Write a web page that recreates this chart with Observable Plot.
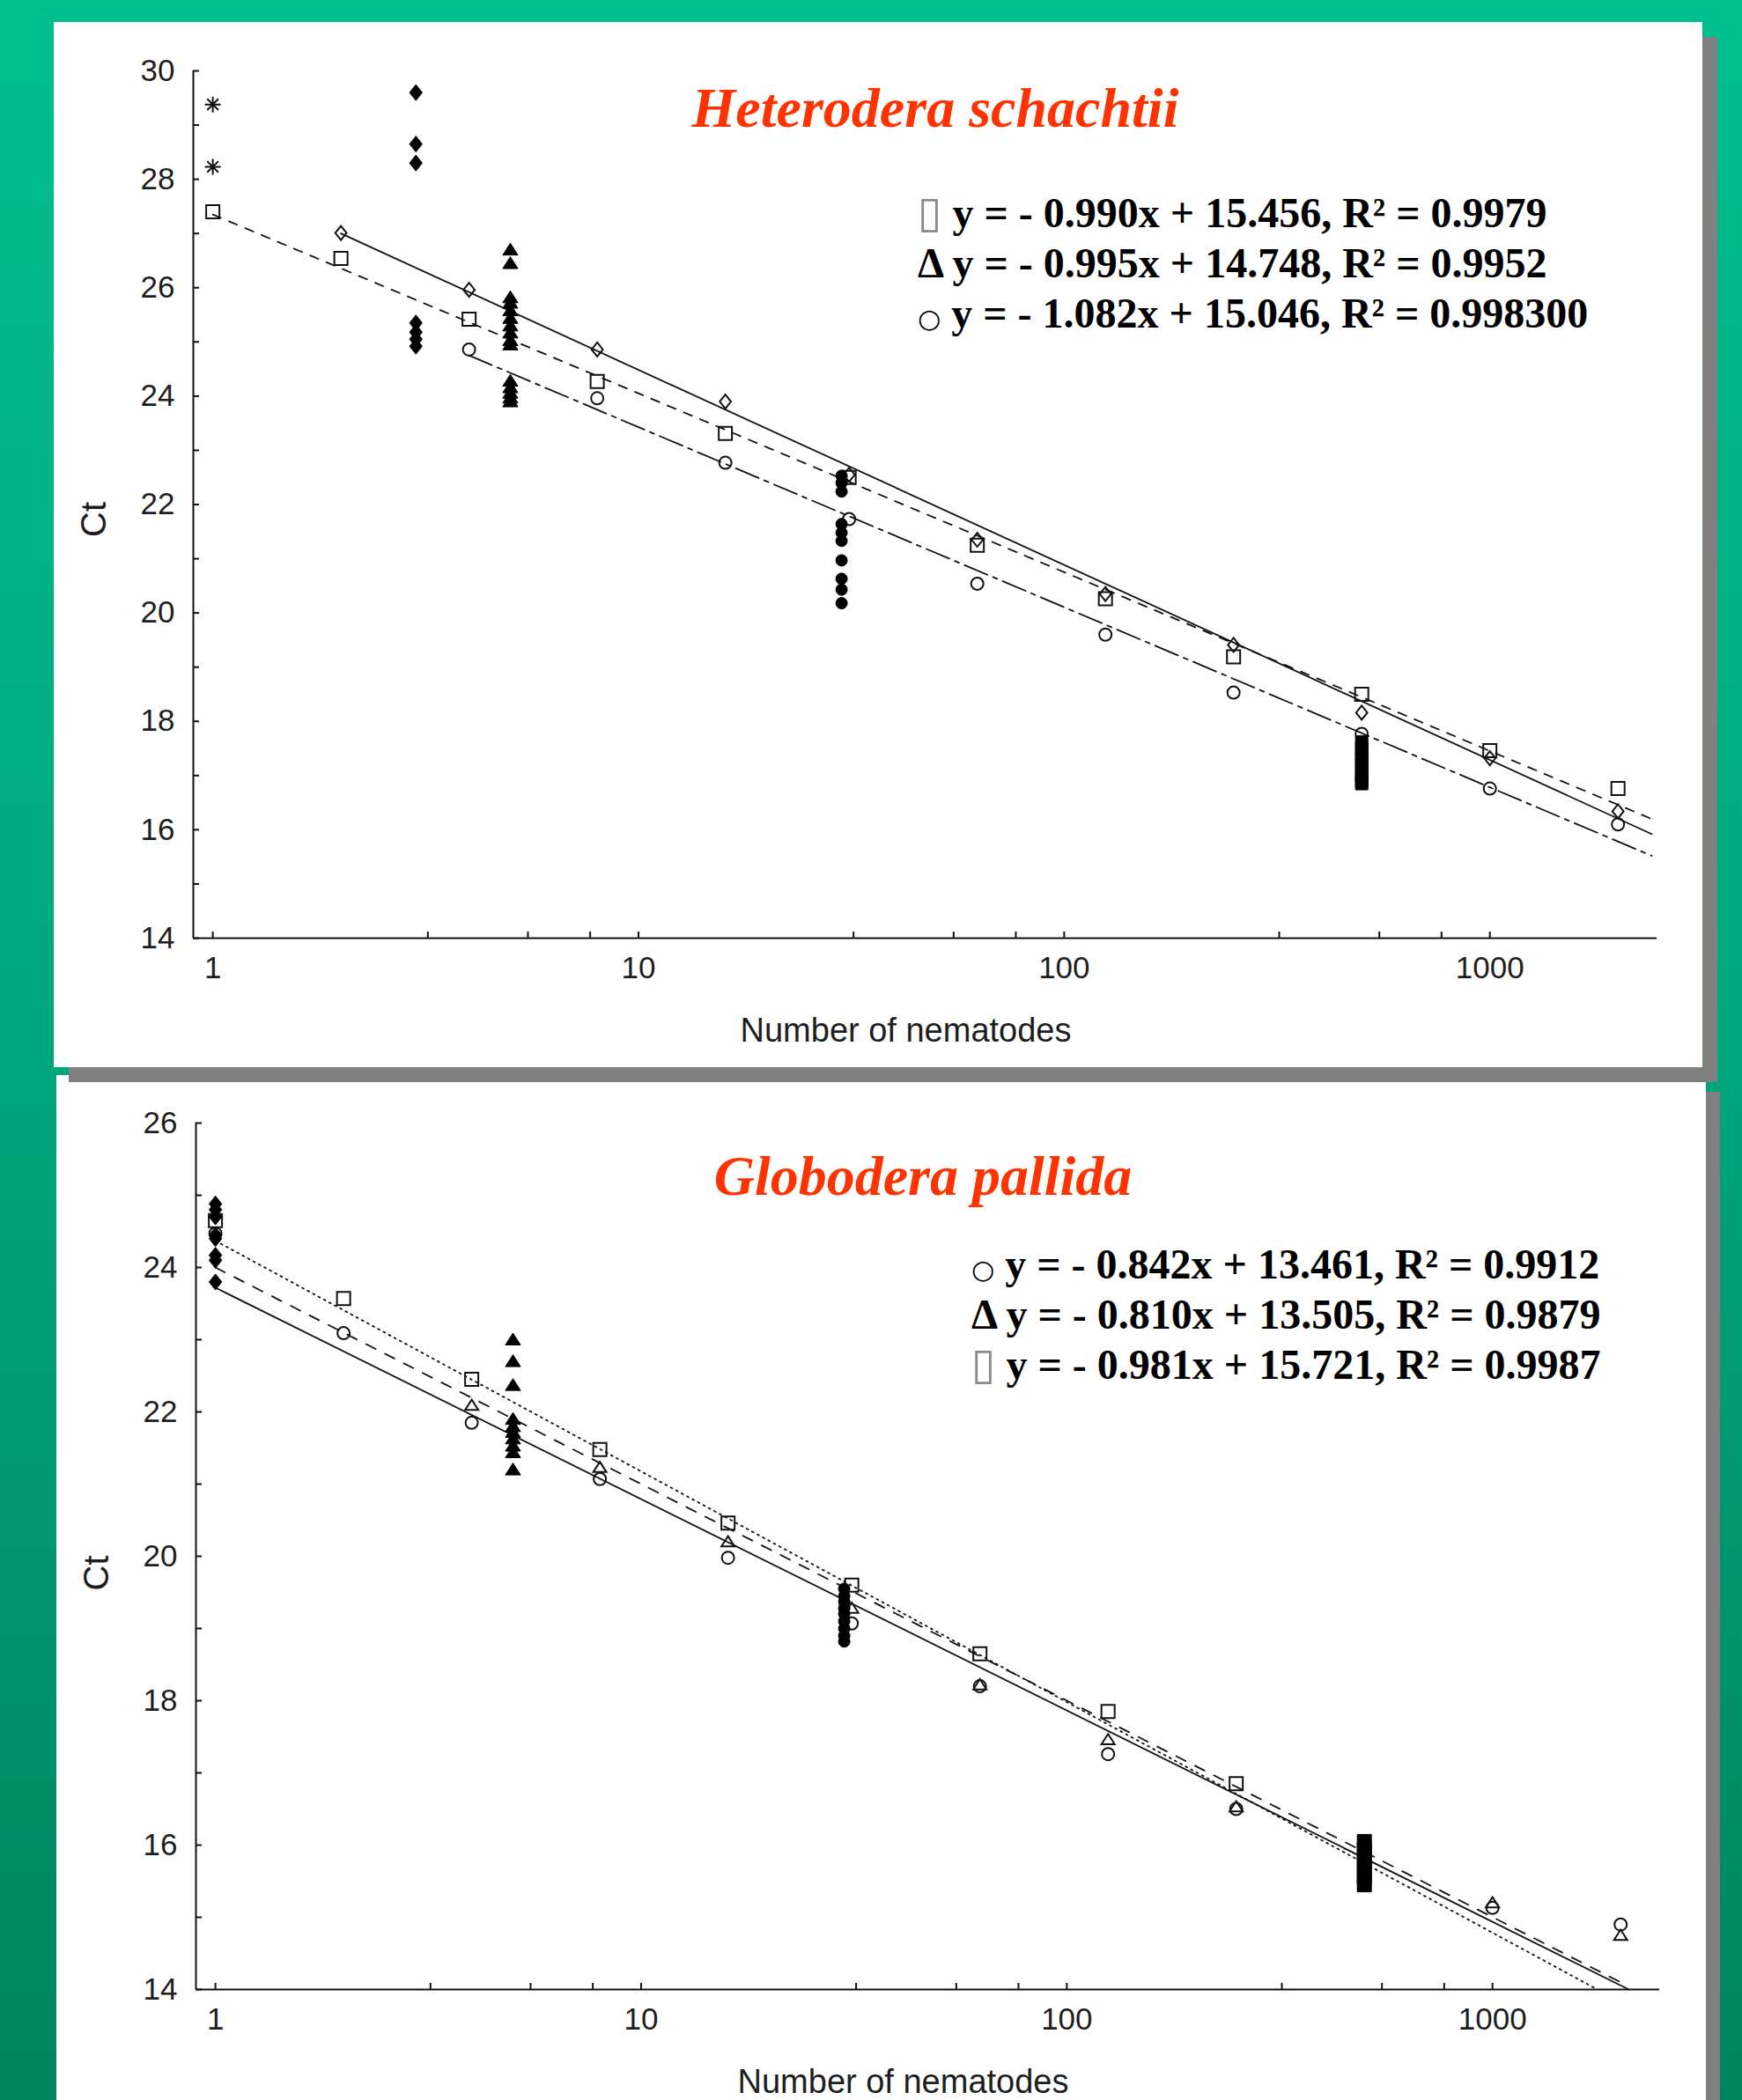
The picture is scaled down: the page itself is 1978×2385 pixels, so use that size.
<!DOCTYPE html>
<html>
<head>
<meta charset="utf-8">
<script src="https://cdn.jsdelivr.net/npm/d3@7"></script>
<script src="https://cdn.jsdelivr.net/npm/@observablehq/plot@0.6"></script>
<style>
html, body { margin: 0; padding: 0; }
body {
  width: 1978px; height: 2385px; overflow: hidden; position: relative;
  background: linear-gradient(to bottom, #00bf8e 0%, #00a67c 50%, #00845f 100%);
}
.panel { position: absolute; background: #ffffff; }
#p1 { left: 61px; top: 25px; width: 1872px; height: 1187px; box-shadow: 17px 17px 0 #808080; z-index: 2; }
#p2 { left: 64px; top: 1221px; width: 1873px; height: 1300px; box-shadow: 16px 19px 0 #808080; z-index: 1; }
.chart { position: absolute; left: 0; z-index: 3; }
.title {
  position: absolute; z-index: 4; white-space: nowrap; line-height: 1;
  font-family: "Liberation Serif", "Times New Roman", serif; font-weight: bold; font-style: italic;
  color: #ff3300; font-size: 64px; transform: translateX(-50%);
}
.eq {
  position: absolute; z-index: 4; white-space: nowrap;
  font-family: "Liberation Serif", "Times New Roman", serif; font-weight: bold;
  font-size: 48px; line-height: 57px; color: #000;
}
.eq div { height: 57px; }
.eq .box { font-family: "DejaVu Sans", sans-serif; font-weight: normal; font-size: 50px; line-height: 0; color: #8a8a8a; }
.eq .ring { font-family: "DejaVu Sans", sans-serif; font-weight: normal; font-size: 30px; line-height: 0; }
</style>
</head>
<body>
<div class="panel" id="p1"></div>
<div class="panel" id="p2"></div>
<div class="chart" id="chart1" style="top:0px"></div>
<div class="chart" id="chart2" style="top:1215px"></div>
<div class="title" style="left:1062px; top:91px">Heterodera schachtii</div>
<div class="eq" style="left:1042px; top:213px">
  <div><span class="box">▯</span> y = - 0.990x + 15.456, R² = 0.9979</div>
  <div>Δ y = - 0.995x + 14.748, R² = 0.9952</div>
  <div><span class="ring">○</span> y = - 1.082x + 15.046, R² = 0.998300</div>
</div>
<div class="title" style="left:1048px; top:1304px">Globodera pallida</div>
<div class="eq" style="left:1103px; top:1407px">
  <div><span class="ring">○</span> y = - 0.842x + 13.461, R² = 0.9912</div>
  <div>Δ y = - 0.810x + 13.505, R² = 0.9879</div>
  <div><span class="box">▯</span> y = - 0.981x + 15.721, R² = 0.9987</div>
</div>
<script>
// ---------- shared axis values ----------
const xDomain = [0.9, 2470];
const xMajorTicks = [1, 10, 100, 1000];
const xAllTicks = [1, 3.2, 5.5, 7.7, 10, 32, 55, 77, 100, 320, 550, 770, 1000];
const xAxisTitle = "Number of nematodes";
const yAxisTitle = "Ct";

// ---------- Heterodera schachtii (top) ----------
const hsYDomain = [14, 30];
const hsYMajor = [14, 16, 18, 20, 22, 24, 26, 28, 30];
const hsYAll = [14, 15, 16, 17, 18, 19, 20, 21, 22, 23, 24, 25, 26, 27, 28, 29, 30];

const hsSquareN  = [1, 2, 4, 8, 16, 31.25, 62.5, 125, 250, 500, 1000, 2000];
const hsSquareCt = [27.4, 26.54, 25.42, 24.27, 23.31, 22.5, 21.25, 20.26, 19.19, 18.5, 17.46, 16.76];
const hsDiamondN  = [2, 4, 8, 16, 31.25, 62.5, 125, 250, 500, 1000, 2000];
const hsDiamondCt = [27.01, 25.96, 24.86, 23.9, 22.55, 21.35, 20.35, 19.41, 18.16, 17.32, 16.34];
const hsCircleN  = [4, 8, 16, 31.25, 62.5, 125, 250, 500, 1000, 2000];
const hsCircleCt = [24.86, 23.96, 22.77, 21.73, 20.54, 19.6, 18.53, 17.77, 16.76, 16.1];

const hsStarN = 1;
const hsStarCt = [29.38, 28.23];
const hsFilledDiamondN = 3;
const hsFilledDiamondCt = [29.6, 28.65, 28.3, 25.35, 25.18, 25.05, 24.92];
const hsFilledTriangleN = 5;
const hsFilledTriangleCt = [26.7, 26.45, 25.82, 25.72, 25.58, 25.44, 25.3, 25.17, 25.03, 24.95, 24.28, 24.16, 24.06, 23.97, 23.9];
const hsFilledCircleN = 30;
const hsFilledCircleCt = [22.53, 22.4, 22.24, 21.64, 21.48, 21.33, 20.97, 20.63, 20.43, 20.18];
const hsFilledSquareN = 500;
const hsFilledSquareCt = [17.62, 17.5, 17.4, 17.3, 17.2, 17.1, 17.0, 16.9, 16.85];

const hsSolidLineN = [2, 2400],  hsSolidLineCt = [27.0, 15.92];
const hsDashLineN = [1, 2400],   hsDashLineCt = [27.35, 16.2];
const hsDashDotLineN = [4, 2400], hsDashDotLineCt = [24.75, 15.52];

// ---------- Globodera pallida (bottom) ----------
const gpYDomain = [14, 26];
const gpYMajor = [14, 16, 18, 20, 22, 24, 26];
const gpYAll = [14, 15, 16, 17, 18, 19, 20, 21, 22, 23, 24, 25, 26];

const gpSquareN  = [1, 2, 4, 8, 16, 31.25, 62.5, 125, 250];
const gpSquareCt = [24.65, 23.57, 22.45, 21.48, 20.46, 19.6, 18.65, 17.85, 16.85];
const gpTriangleN  = [4, 8, 16, 31.25, 62.5, 125, 250, 1000, 2000];
const gpTriangleCt = [22.09, 21.23, 20.2, 19.28, 18.22, 17.46, 16.53, 15.2, 14.75];
const gpCircleN  = [1, 2, 4, 8, 16, 31.25, 62.5, 125, 250, 1000, 2000];
const gpCircleCt = [24.47, 23.09, 21.85, 21.07, 19.98, 19.07, 18.2, 17.26, 16.5, 15.13, 14.9];

const gpFilledDiamondN = 1;
const gpFilledDiamondCt = [24.88, 24.8, 24.7, 24.45, 24.4, 24.17, 24.1, 23.8];
const gpFilledTriangleN = 5;
const gpFilledTriangleCt = [23.0, 22.7, 22.37, 21.9, 21.8, 21.72, 21.63, 21.53, 21.44, 21.2];
const gpFilledCircleN = 30;
const gpFilledCircleCt = [19.55, 19.45, 19.37, 19.28, 19.2, 19.1, 19.0, 18.9, 18.82];
const gpFilledSquareN = 500;
const gpFilledSquareCt = [16.05, 15.95, 15.85, 15.75, 15.65, 15.55, 15.45];

const gpSolidLineN = [1, 2090], gpSolidLineCt = [23.72, 14.0];
const gpDashLineN = [1, 2000],  gpDashLineCt = [24.0, 14.1];
const gpDotLineN = [1, 1763],   gpDotLineCt = [24.37, 14.0];

// ---------- helpers ----------
const zip = (ns, cts) => ns.map((n, i) => ({n, ct: cts[i]}));
const col = (n, cts) => cts.map(ct => ({n, ct}));

const sym = fn => ({draw(ctx, size) { fn(ctx, Math.sqrt(size / Math.PI)); }});
const squareSym = sym((c, r) => { c.moveTo(-r, -r); c.lineTo(r, -r); c.lineTo(r, r); c.lineTo(-r, r); c.closePath(); });
const diamondSym = sym((c, r) => { const w = r * 0.8; c.moveTo(0, -r); c.lineTo(w, 0); c.lineTo(0, r); c.lineTo(-w, 0); c.closePath(); });
const triangleSym = sym((c, r) => { const w = r * 1.15; c.moveTo(0, -r); c.lineTo(w, r * 0.8); c.lineTo(-w, r * 0.8); c.closePath(); });
const circleSym = sym((c, r) => { c.moveTo(r, 0); c.arc(0, 0, r, 0, 2 * Math.PI); c.closePath(); });
const asteriskSym = sym((c, r) => {
  for (const a of [0, 45, 90, 135]) {
    const t = a * Math.PI / 180, dx = Math.cos(t) * r, dy = Math.sin(t) * r;
    c.moveTo(dx, dy); c.lineTo(-dx, -dy);
  }
});

const openDot = (data, symbol, r) => Plot.dot(data, {x: "n", y: "ct", symbol, r, fill: "none", stroke: "#111", strokeWidth: 2});
const filledDot = (data, symbol, r) => Plot.dot(data, {x: "n", y: "ct", symbol, r, fill: "#000", stroke: "#000", strokeWidth: 1});
const fitLine = (ns, cts, dash) => Plot.line(zip(ns, cts), {x: "n", y: "ct", stroke: "#111", strokeWidth: 1.8, strokeDasharray: dash});

function makeChart(cfg) {
  const {width, height, marginLeft, marginRight, marginTop, marginBottom, yDomain, yMajor, yAll, marks, titleDx, ctDy} = cfg;
  const plotW = width - marginLeft - marginRight;
  const plotH = height - marginTop - marginBottom;
  return Plot.plot({
    width, height, marginLeft, marginRight, marginTop, marginBottom,
    style: {background: "transparent", fontFamily: "'Liberation Sans', Arial, sans-serif", color: "#1e1e1e", overflow: "visible"},
    x: {type: "log", domain: xDomain},
    y: {domain: yDomain},
    marks: [
      ...marks,
      Plot.ruleX([xDomain[0]], {stroke: "#111", strokeWidth: 2}),
      Plot.ruleY([yDomain[0]], {stroke: "#111", strokeWidth: 2}),
      Plot.tickY(yAll, {y: d => d, insetRight: plotW - 7, stroke: "#111", strokeWidth: 2}),
      Plot.tickX(xAllTicks, {x: d => d, insetTop: plotH - 7, stroke: "#111", strokeWidth: 2}),
      Plot.axisY({ticks: yMajor, tickSize: 0, tickPadding: 21, fontSize: 35, label: null, tickFormat: d => String(d)}),
      Plot.axisX({ticks: xMajorTicks, tickSize: 0, tickPadding: 21, fontSize: 35, label: null, tickFormat: d => String(d)}),
      Plot.text([xAxisTitle], {frameAnchor: "bottom", text: d => d, textAnchor: "middle", lineAnchor: "middle", dy: 105, dx: titleDx, fontSize: 38, fill: "#1e1e1e"}),
      Plot.text([yAxisTitle], {frameAnchor: "left", text: d => d, rotate: -90, textAnchor: "middle", lineAnchor: "middle", dx: -112, dy: ctDy, fontSize: 40, fill: "#1e1e1e"})
    ]
  });
}

const chart1 = makeChart({
  width: 1978, height: 1215, marginLeft: 219, marginRight: 97, marginTop: 80, marginBottom: 150,
  yDomain: hsYDomain, yMajor: hsYMajor, yAll: hsYAll, titleDx: -22, ctDy: 17,
  marks: [
    fitLine(hsSolidLineN, hsSolidLineCt, null),
    fitLine(hsDashLineN, hsDashLineCt, "10,10"),
    fitLine(hsDashDotLineN, hsDashDotLineCt, "28,7,5,7"),
    openDot(col(hsStarN, hsStarCt), asteriskSym, 9),
    openDot(zip(hsSquareN, hsSquareCt), squareSym, 7.5),
    openDot(zip(hsDiamondN, hsDiamondCt), diamondSym, 8),
    openDot(zip(hsCircleN, hsCircleCt), circleSym, 7),
    filledDot(col(hsFilledDiamondN, hsFilledDiamondCt), diamondSym, 9),
    filledDot(col(hsFilledTriangleN, hsFilledTriangleCt), triangleSym, 7.5),
    filledDot(col(hsFilledCircleN, hsFilledCircleCt), circleSym, 6.5),
    filledDot(col(hsFilledSquareN, hsFilledSquareCt), squareSym, 7)
  ]
});
document.getElementById("chart1").appendChild(chart1);

const chart2 = makeChart({
  width: 1978, height: 1170, marginLeft: 222, marginRight: 94, marginTop: 60, marginBottom: 126,
  yDomain: gpYDomain, yMajor: gpYMajor, yAll: gpYAll, titleDx: -28, ctDy: 19,
  marks: [
    fitLine(gpSolidLineN, gpSolidLineCt, null),
    fitLine(gpDashLineN, gpDashLineCt, "12,12"),
    fitLine(gpDotLineN, gpDotLineCt, "2,5"),
    openDot(zip(gpSquareN, gpSquareCt), squareSym, 7.5),
    openDot(zip(gpTriangleN, gpTriangleCt), triangleSym, 6.5),
    openDot(zip(gpCircleN, gpCircleCt), circleSym, 7),
    filledDot(col(gpFilledDiamondN, gpFilledDiamondCt), diamondSym, 9),
    filledDot(col(gpFilledTriangleN, gpFilledTriangleCt), triangleSym, 7.5),
    filledDot(col(gpFilledCircleN, gpFilledCircleCt), circleSym, 6.5),
    filledDot(col(gpFilledSquareN, gpFilledSquareCt), squareSym, 8)
  ]
});
document.getElementById("chart2").appendChild(chart2);
</script>
</body>
</html>
